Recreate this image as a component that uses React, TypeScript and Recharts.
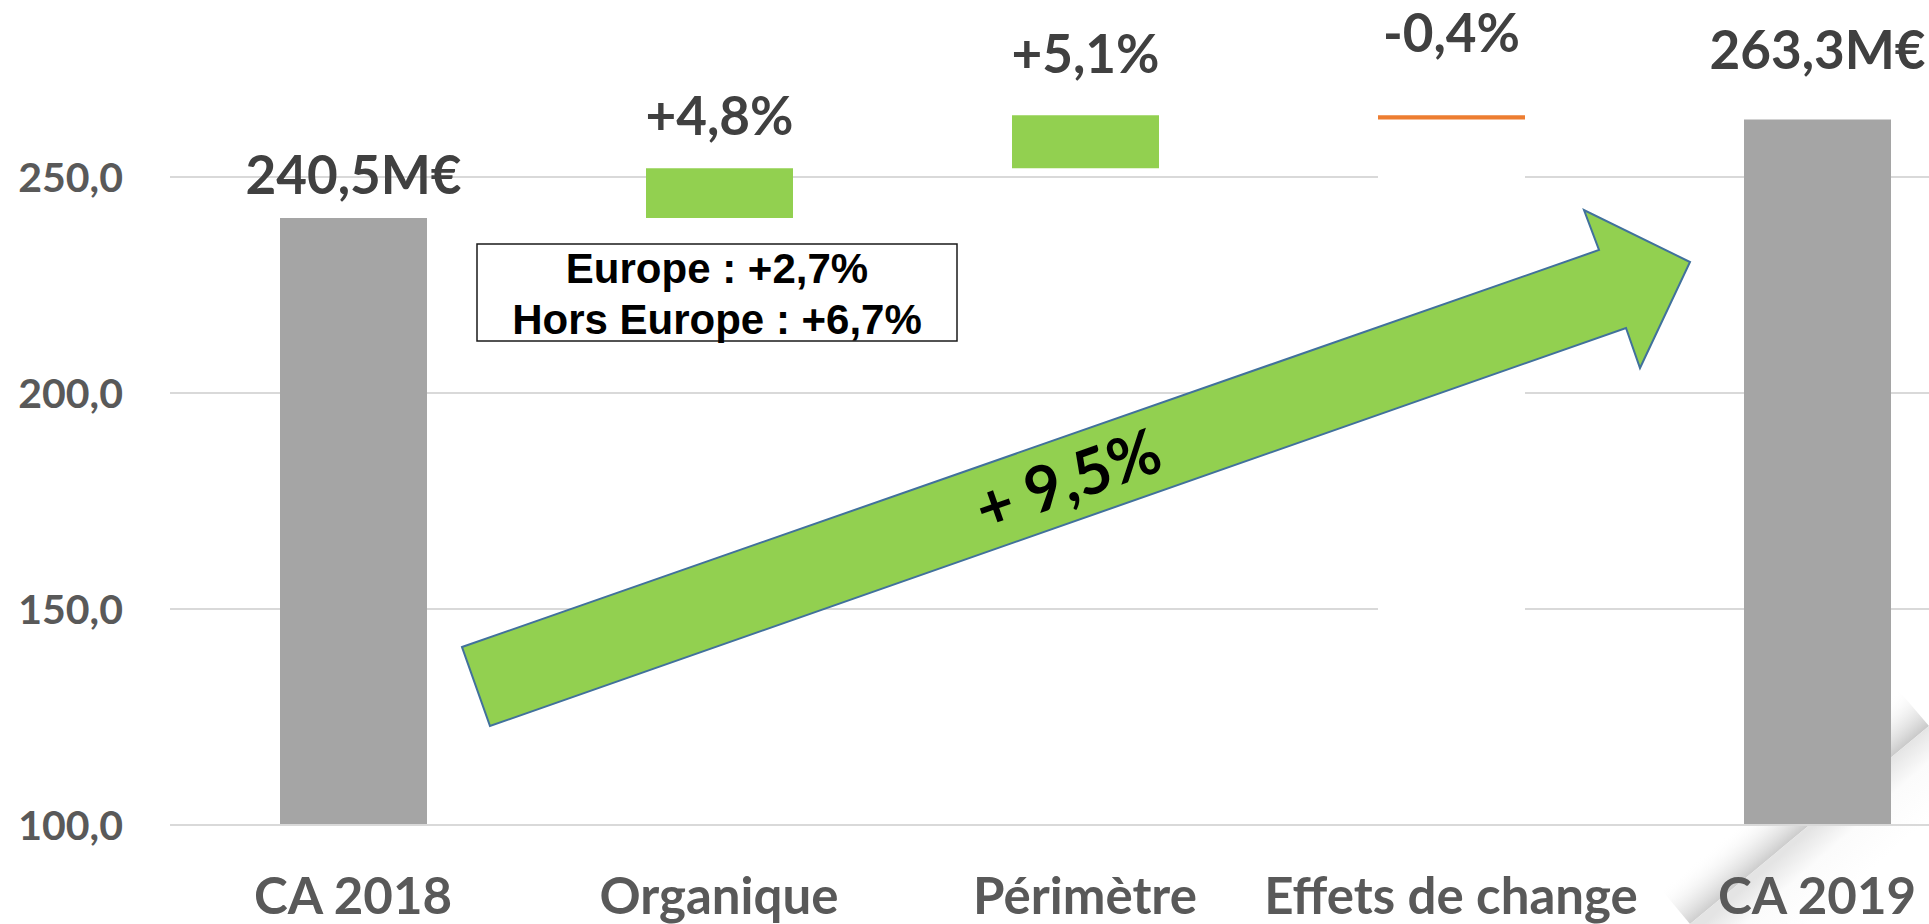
import React from "react";
import { BarChart, Bar, XAxis, YAxis, CartesianGrid, Cell, LabelList } from "recharts";

// waterfall: invisible base + visible step
const categories = ["CA 2018", "Organique", "Périmètre", "Effets de change", "CA 2019"];
const baseValues = [0, 240.5, 252.0, 263.3, 0];
const stepValues = [240.5, 11.5, 12.3, 1.0, 263.3];
const stepLabels = ["240,5M€", "+4,8%", "+5,1%", "-0,4%", "263,3M€"];
const yTicks = [100, 150, 200, 250];
const organicSplit = ["Europe : +2,7%", "Hors Europe : +6,7%"];
const totalGrowth = "+ 9,5%";

const STEP_COLORS = ["#A5A5A5", "#92D050", "#92D050", "#ED7D31", "#A5A5A5"];
const BASE_COLORS = ["transparent", "transparent", "transparent", "#FFFFFF", "transparent"];
// labels were nudged by hand in the original, px above the bar top
const LABEL_LIFT = [24, 33, 42, 63, 51];

const FONT = "Lato, 'Open Sans', sans-serif";

const data = categories.map((name, i) => ({
  name,
  base: baseValues[i],
  step: stepValues[i],
  label: stepLabels[i],
}));

function StepLabel(props: any) {
  const { x, y, width, value } = props;
  const idx = props.index ?? stepLabels.indexOf(value);
  return (
    <text
      x={Number(x) + Number(width) / 2}
      y={Number(y) - LABEL_LIFT[idx]}
      textAnchor="middle"
      fontFamily={FONT}
      fontWeight={700}
      fontSize={53}
      fill="#404040"
    >
      {value}
    </text>
  );
}

// slide page-curl shadow, sits behind the chart
function PageCurl() {
  return (
    <svg width={1929} height={924} style={{ position: "absolute", left: 0, top: 0 }}>
      <defs>
        <linearGradient id="curlShadow" x1="1813" y1="827" x2="1781" y2="789" gradientUnits="userSpaceOnUse">
          <stop offset="0%" stopColor="#b8b8b8" stopOpacity={0.85} />
          <stop offset="45%" stopColor="#d8d8d8" stopOpacity={0.5} />
          <stop offset="100%" stopColor="#ffffff" stopOpacity={0} />
        </linearGradient>
        <linearGradient id="curlBack" x1="1813" y1="827" x2="1860" y2="880" gradientUnits="userSpaceOnUse">
          <stop offset="0%" stopColor="#e4e4e4" />
          <stop offset="40%" stopColor="#fbfbfb" />
          <stop offset="100%" stopColor="#ffffff" />
        </linearGradient>
      </defs>
      <polygon points="1690,924 1929,726 1888,678 1650,876" fill="url(#curlShadow)" />
      <polygon points="1690,924 1929,726 1929,924" fill="url(#curlBack)" />
    </svg>
  );
}

function Overlay() {
  return (
    <svg
      width={1929}
      height={924}
      style={{ position: "absolute", left: 0, top: 0, pointerEvents: "none" }}
    >
      {/* organic split box */}
      <rect x={477} y={244} width={480} height={97} fill="#fff" stroke="#1a1a1a" strokeWidth={1.5} />
      {organicSplit.map((t, i) => (
        <text
          key={t}
          x={717}
          y={283 + i * 51}
          textAnchor="middle"
          fontFamily="'Liberation Sans', Arial, sans-serif"
          fontWeight={700}
          fontSize={42}
          fill="#000"
        >
          {t}
        </text>
      ))}
      {/* growth arrow */}
      <polygon
        points="462,647 1599,250 1584,210 1690,262 1640,368 1626,328 490,726"
        fill="#92D050"
        stroke="#41719C"
        strokeWidth={2}
        strokeLinejoin="miter"
      />
      <text
        x={1068}
        y={480}
        transform="rotate(-19.25 1068 480)"
        textAnchor="middle"
        dy="0.35em"
        fontFamily={FONT}
        fontWeight={700}
        fontSize={63}
        fill="#000"
      >
        {totalGrowth}
      </text>
    </svg>
  );
}

export default function App() {
  return (
    <div
      style={{
        position: "fixed",
        left: 0,
        top: 0,
        width: 1929,
        height: 924,
        overflow: "hidden",
        background: "#fff",
      }}
    >
      <PageCurl />
      {/* shifted up so the axis top (300) falls just off the top, as in the slide */}
      <div style={{ position: "absolute", left: 0, top: -60 }}>
        <BarChart
          width={2000}
          height={984}
          data={data}
          margin={{ top: 21, right: 0, bottom: 0, left: 0 }}
          barSize={147}
        >
          <CartesianGrid vertical={false} stroke="#D9D9D9" strokeWidth={2} />
          <Bar dataKey="base" stackId="w" isAnimationActive={false}>
            {data.map((d, i) => (
              <Cell key={d.name} fill={BASE_COLORS[i]} />
            ))}
          </Bar>
          <Bar dataKey="step" stackId="w" isAnimationActive={false}>
            {data.map((d, i) => (
              <Cell key={d.name} fill={STEP_COLORS[i]} />
            ))}
            <LabelList dataKey="label" content={StepLabel} />
          </Bar>
          <XAxis
            dataKey="name"
            height={99}
            tickLine={false}
            axisLine={{ stroke: "#D9D9D9", strokeWidth: 2 }}
            tickMargin={47}
            tick={{ fontFamily: FONT, fontWeight: 700, fontSize: 51, fill: "#595959" }}
            interval={0}
          />
          <YAxis
            domain={[100, 300]}
            ticks={yTicks}
            allowDataOverflow
            width={170}
            axisLine={false}
            tickLine={false}
            tickMargin={41}
            tickFormatter={(v: number) => v.toFixed(1).replace(".", ",")}
            tick={{ fontFamily: FONT, fontWeight: 700, fontSize: 41, fill: "#595959" }}
          />
        </BarChart>
      </div>
      <Overlay />
    </div>
  );
}
